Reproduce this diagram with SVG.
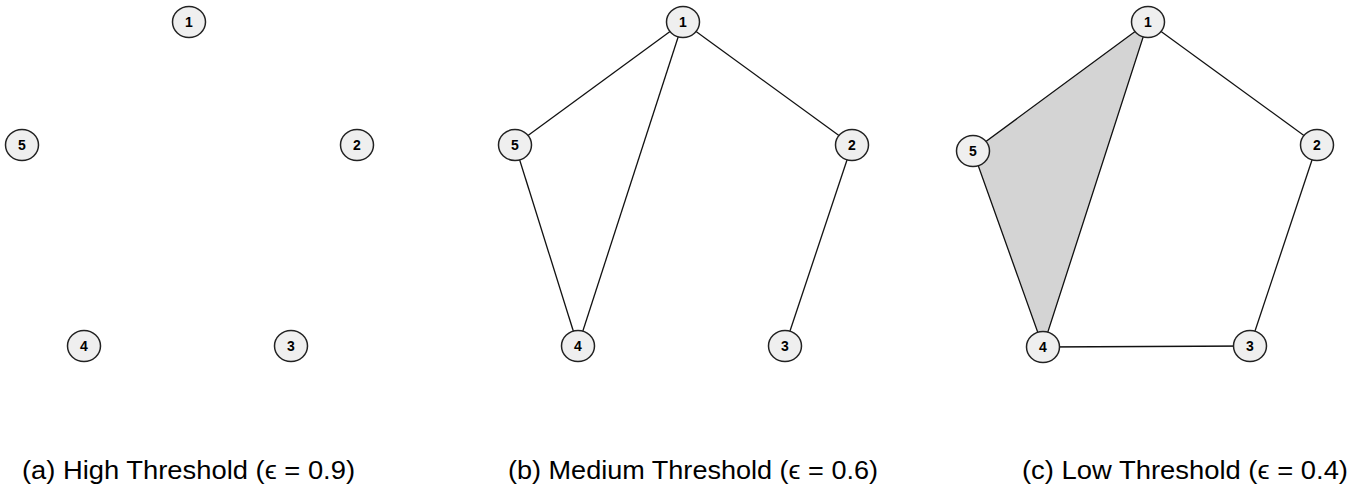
<svg xmlns="http://www.w3.org/2000/svg" width="1352" height="489" viewBox="0 0 1352 489">
<style>
.e{stroke:#111;stroke-width:1.3;fill:none}
.tri{fill:#d4d4d4;stroke:#111;stroke-width:1.3}
.n ellipse{fill:#efefef;stroke:#222;stroke-width:1.5}
.n text{font-family:"Liberation Sans",Arial,sans-serif;font-weight:bold;font-size:14px;fill:#000;text-anchor:middle}
.cap{font-family:"Liberation Sans",Arial,sans-serif;font-size:25px;fill:#000;text-anchor:middle}
</style>
<rect width="1352" height="489" fill="#fff"/>
<g id="connectors">
<polygon class="tri" points="1148,22 973,151 1043,347"/>
<line class="e" x1="683" y1="22" x2="515" y2="145"/>
<line class="e" x1="683" y1="22" x2="578" y2="346"/>
<line class="e" x1="683" y1="22" x2="852" y2="145"/>
<line class="e" x1="515" y1="145" x2="578" y2="346"/>
<line class="e" x1="852" y1="145" x2="785" y2="346"/>
<line class="e" x1="1148" y1="22" x2="1317" y2="145"/>
<line class="e" x1="1317" y1="145" x2="1250" y2="346"/>
<line class="e" x1="1043" y1="347" x2="1250" y2="346"/>
</g>
<g id="a1" class="n"><ellipse cx="189" cy="22" rx="16.5" ry="15.5"/><text x="189" y="27">1</text></g>
<g id="a2" class="n"><ellipse cx="357" cy="145" rx="16.5" ry="15.5"/><text x="357" y="150">2</text></g>
<g id="a3" class="n"><ellipse cx="291" cy="346" rx="16.5" ry="15.5"/><text x="291" y="351">3</text></g>
<g id="a4" class="n"><ellipse cx="84" cy="346" rx="16.5" ry="15.5"/><text x="84" y="351">4</text></g>
<g id="a5" class="n"><ellipse cx="22" cy="145" rx="16.5" ry="15.5"/><text x="22" y="150">5</text></g>
<g id="b1" class="n"><ellipse cx="683" cy="22" rx="16.5" ry="15.5"/><text x="683" y="27">1</text></g>
<g id="b2" class="n"><ellipse cx="852" cy="145" rx="16.5" ry="15.5"/><text x="852" y="150">2</text></g>
<g id="b3" class="n"><ellipse cx="785" cy="346" rx="16.5" ry="15.5"/><text x="785" y="351">3</text></g>
<g id="b4" class="n"><ellipse cx="578" cy="346" rx="16.5" ry="15.5"/><text x="578" y="351">4</text></g>
<g id="b5" class="n"><ellipse cx="515" cy="145" rx="16.5" ry="15.5"/><text x="515" y="150">5</text></g>
<g id="c1" class="n"><ellipse cx="1148" cy="22" rx="16.5" ry="15.5"/><text x="1148" y="27">1</text></g>
<g id="c2" class="n"><ellipse cx="1317" cy="145" rx="16.5" ry="15.5"/><text x="1317" y="150">2</text></g>
<g id="c3" class="n"><ellipse cx="1250" cy="346" rx="16.5" ry="15.5"/><text x="1250" y="351">3</text></g>
<g id="c4" class="n"><ellipse cx="1043" cy="347" rx="16.5" ry="15.5"/><text x="1043" y="352">4</text></g>
<g id="c5" class="n"><ellipse cx="973" cy="151" rx="16.5" ry="15.5"/><text x="973" y="156">5</text></g>
<g id="captions">
<text class="cap" x="188.5" y="479" textLength="333" lengthAdjust="spacingAndGlyphs">(a) High Threshold (ϵ = 0.9)</text>
<text class="cap" x="693" y="479" textLength="370" lengthAdjust="spacingAndGlyphs">(b) Medium Threshold (ϵ = 0.6)</text>
<text class="cap" x="1185" y="479" textLength="326" lengthAdjust="spacingAndGlyphs">(c) Low Threshold (ϵ = 0.4)</text>
</g>
</svg>
